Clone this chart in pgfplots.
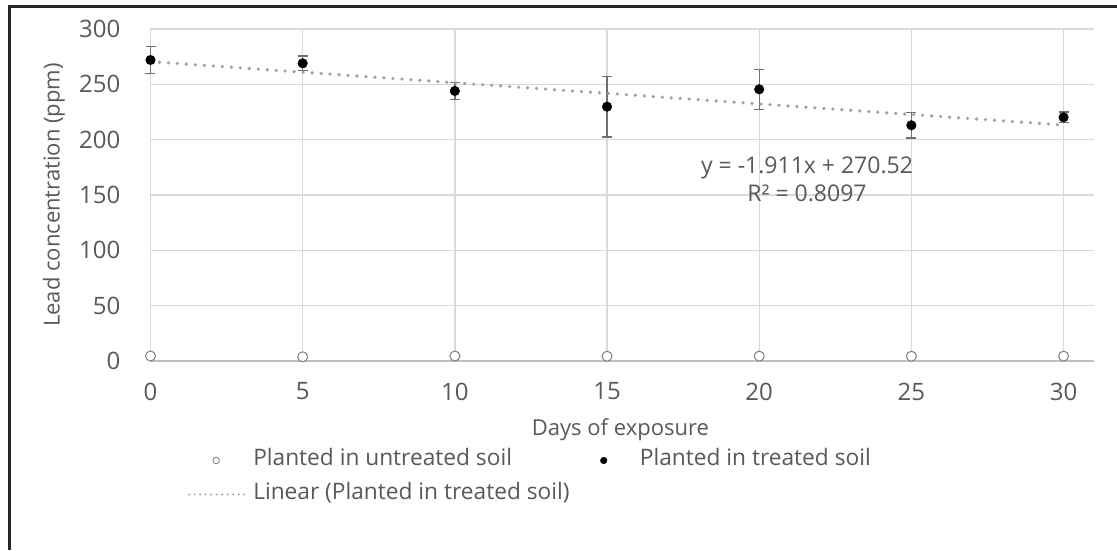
\documentclass[border=0pt]{standalone}
\usepackage{fontspec}
\setmainfont{Open Sans}
\usepackage{pgfplots}
\pgfplotsset{compat=1.18}
\definecolor{txt}{HTML}{595959}
\definecolor{grd}{HTML}{D9D9D9}
\definecolor{axc}{HTML}{BFBFBF}
\definecolor{trend}{HTML}{A0A0A0}
\definecolor{errc}{HTML}{6F6F6F}
\definecolor{unt}{HTML}{7F7F7F}

\pgfplotstableread{
x y e
0 272.0 12.0
5 269.0 6.5
10 244.0 7.8
15 229.8 27.5
20 245.5 18.0
25 213.0 11.6
30 220.2 4.7
}\treated

\pgfplotstableread{
x y
0 4.5
5 3.8
10 4.5
15 4.3
20 4.4
25 4.3
30 4.4
}\untreated

\pgfplotstableread{
x y
0 270.52
30 213.19
}\trendline

\begin{document}
\begin{tikzpicture}[x=1pt,y=1pt]
\useasboundingbox (0,0) rectangle (1117,550);
\fill[white] (0,0) rectangle (1117,550);
\draw[line width=3.5pt, color=black!85] (9.5,0) -- (9.5,543.5) -- (1117,543.5);
\begin{axis}[
  at={(150.5pt,189pt)}, anchor=south west,
  scale only axis, width=943.5pt, height=332pt,
  xmin=0, xmax=31, ymin=0, ymax=300,
  xtick={0,5,...,30}, ytick={0,50,...,300},
  axis line style={draw=none},
  major tick length=0pt,
  xmajorgrids, ymajorgrids,
  grid style={grd, line width=1.3pt},
  /pgf/number format/assume math mode=true,
  ticklabel style={font=\fontsize{24}{28}\selectfont, text=txt},
  yticklabel style={anchor=east, inner sep=0pt, xshift=-30pt},
  xticklabel style={anchor=north, inner sep=0pt, yshift=-21.5pt},
  xlabel={Days of exposure},
  ylabel={Lead concentration (ppm)},
  every axis x label/.style={at={(axis description cs:0.498,-0.208)}, anchor=center, font=\fontsize{22}{26}\selectfont, text=txt},
  every axis y label/.style={at={(axis description cs:-0.1023,0.5)}, anchor=center, rotate=90, font=\fontsize{22}{26}\selectfont, text=txt},
  clip=false,
  legend columns=2,
  legend cell align=left,
  legend style={draw=none, fill=none, at={(axis description cs:0.0397,-0.268)}, anchor=north west,
    inner sep=0pt, outer sep=0pt, font=\fontsize{22.7}{27}\selectfont, text=txt,
    row sep=13pt,
    nodes={inner sep=0pt, text height=16pt, text depth=5pt},
    /tikz/every odd column/.style={column sep=8pt},
    /tikz/every even column/.style={column sep=6pt}},
]
\draw[axc, line width=1.3pt] (axis cs:0,0) -- (axis cs:31,0);
\addplot[only marks, mark=*, mark size=5pt, mark options={draw=unt, fill=white, line width=1pt},
  legend image code/.code={\path (0pt,0pt) (56pt,0pt); \draw[unt, fill=white, line width=0.8pt] (28pt,0pt) circle (3.3pt);}]
  table[x=x,y=y] {\untreated};
\addlegendentry{Planted in untreated soil}
\addplot[only marks, mark=*, mark size=4.8pt, black,
  legend image code/.code={\path (0pt,0pt) (56pt,0pt); \fill[black] (28pt,0pt) circle (3.3pt);},
  error bars/.cd, y dir=both, y explicit,
  error bar style={errc, line width=1.3pt},
  error mark options={rotate=90, errc, mark size=5pt, line width=1.3pt}]
  table[x=x,y=y,y error=e] {\treated};
\addlegendentry{Planted in treated soil}
\addplot[trend, line width=3.6pt, line cap=round, dash pattern=on 0pt off 9pt,
  legend image code/.code={\draw[trend, line width=2.2pt, line cap=round, dash pattern=on 0pt off 5.5pt] (1pt,0pt) -- (56pt,0pt);}]
  table[x=x,y=y] {\trendline};
\addlegendentry{Linear (Planted in treated soil)}
\node[text=txt, font=\fontsize{23}{28}\selectfont, align=center] at (axis cs:21.57,164.5) {y = -1.911x + 270.52\\R² = 0.8097};
\end{axis}
\end{tikzpicture}
\end{document}
